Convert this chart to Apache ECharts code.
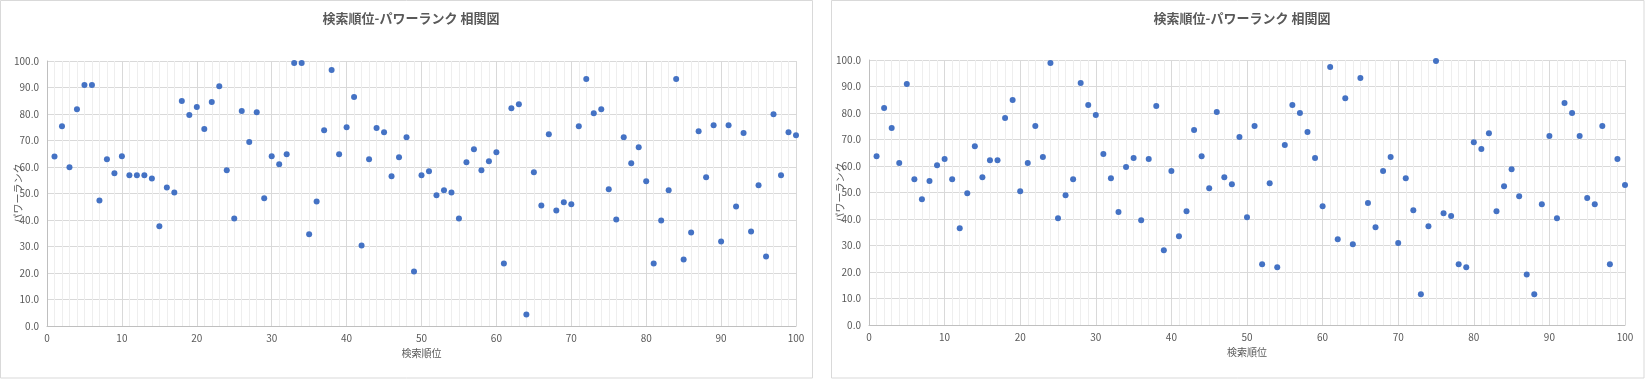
<!DOCTYPE html>
<html><head><meta charset="utf-8">
<script src="https://cdn.jsdelivr.net/npm/echarts@6/dist/echarts.min.js"></script>
<style>html,body{margin:0;padding:0;background:#fff}#c{width:1645px;height:379px}</style>
</head><body><div id="c"></div>
<script>
const titleText = '検索順位-パワーランク 相関図';
const xName = '検索順位';
const yName = 'パワーランク';
const ranks = [1,2,3,4,5,6,7,8,9,10,11,12,13,14,15,16,17,18,19,20,21,22,23,24,25,26,27,28,29,30,31,32,33,34,35,36,37,38,39,40,41,42,43,44,45,46,47,48,49,50,51,52,53,54,55,56,57,58,59,60,61,62,63,64,65,66,67,68,69,70,71,72,73,74,75,76,77,78,79,80,81,82,83,84,85,86,87,88,89,90,91,92,93,94,95,96,97,98,99,100];
const leftPower = [64.0,75.4,59.9,81.8,90.9,90.9,47.4,62.9,57.6,64.1,56.9,56.9,56.9,55.7,37.6,52.3,50.4,84.9,79.6,82.6,74.3,84.5,90.5,58.8,40.6,81.1,69.4,80.7,48.2,64.1,61.0,64.8,99.2,99.2,34.6,47.0,73.9,96.6,64.8,75.0,86.4,30.4,62.9,74.7,73.1,56.5,63.7,71.2,20.6,56.9,58.4,49.3,51.2,50.4,40.6,61.8,66.7,58.8,62.2,65.6,23.6,82.2,83.7,4.3,58.0,45.5,72.4,43.6,46.7,45.9,75.4,93.2,80.3,81.8,51.6,40.2,71.2,61.4,67.5,54.6,23.6,39.8,51.2,93.2,25.1,35.3,73.5,56.1,75.8,31.9,75.8,45.1,72.8,35.7,53.1,26.2,79.9,56.9,73.1,72.0];
const rightPower = [63.7,81.9,74.3,61.1,90.9,55.0,47.5,54.3,60.3,62.6,55.0,36.5,49.7,67.5,55.8,62.2,62.2,78.1,84.9,50.5,61.1,75.1,63.4,98.9,40.3,49.0,55.0,91.3,83.0,79.2,64.5,55.4,42.6,59.6,63.0,39.5,62.6,82.6,28.2,58.1,33.5,42.9,73.6,63.7,51.6,80.4,55.8,53.1,70.9,40.7,75.1,22.9,53.5,21.8,67.9,83.0,80.0,72.8,63.0,44.8,97.4,32.4,85.6,30.5,93.2,46.0,36.9,58.1,63.4,30.9,55.4,43.3,11.6,37.3,99.6,42.2,41.1,22.9,21.8,69.0,66.4,72.4,42.9,52.4,58.8,48.6,19.1,11.6,45.6,71.3,40.3,83.8,80.0,71.3,47.9,45.6,75.1,22.9,62.6,52.8];

const FONT = '"Noto Sans CJK JP", "Noto Sans", sans-serif';
const TXT = '#595959';
const chart = echarts.init(document.getElementById('c'), null, {renderer: 'canvas'});

function xAxis(gi) {
  return {
    type: 'value', gridIndex: gi, min: 0, max: 100, interval: 10,
    name: xName, nameLocation: 'middle', nameGap: 22, nameMoveOverlap: false,
    nameTextStyle: {color: TXT, fontSize: 10, fontFamily: FONT},
    axisLine: {show: true, lineStyle: {color: '#bfbfbf', width: 1}},
    axisTick: {show: false},
    axisLabel: {color: TXT, fontSize: 10, fontFamily: FONT, margin: 7},
    splitLine: {show: true, lineStyle: {color: '#d9d9d9', width: 1}},
    minorTick: {show: false, splitNumber: 10},
    minorSplitLine: {show: true, lineStyle: {color: '#eeeeee', width: 1}}
  };
}
function yAxis(gi) {
  return {
    type: 'value', gridIndex: gi, min: 0, max: 100, interval: 10,
    name: yName, nameLocation: 'middle', nameGap: 24, nameRotate: 90, nameMoveOverlap: false,
    nameTextStyle: {color: TXT, fontSize: 10, fontFamily: FONT},
    axisLine: {show: true, lineStyle: {color: '#bfbfbf', width: 1}},
    axisTick: {show: false},
    axisLabel: {color: TXT, fontSize: 10, fontFamily: FONT, margin: 8,
      formatter: v => v.toFixed(1)},
    splitLine: {show: true, lineStyle: {color: '#d9d9d9', width: 1}}
  };
}
function pts(arr) { return ranks.map((r, i) => [r, arr[i]]); }

chart.setOption({
  animation: false,
  backgroundColor: '#ffffff',
  title: [
    {text: titleText, left: 406, top: 7, textAlign: 'center',
     textStyle: {color: TXT, fontSize: 13, fontWeight: 'bold', fontFamily: FONT}},
    {text: titleText, left: 1237, top: 7, textAlign: 'center',
     textStyle: {color: TXT, fontSize: 13, fontWeight: 'bold', fontFamily: FONT}}
  ],
  graphic: [
    {type: 'rect', shape: {x: 0.5, y: 0.5, width: 812, height: 377.5}, style: {fill: 'none', stroke: '#d9d9d9', lineWidth: 1}, silent: true, z: -1},
    {type: 'rect', shape: {x: 831.5, y: 0.5, width: 812.5, height: 377.5}, style: {fill: 'none', stroke: '#d9d9d9', lineWidth: 1}, silent: true, z: -1}
  ],
  grid: [
    {left: 47, right: 849, top: 61, bottom: 53, containLabel: false},
    {left: 869, right: 20, top: 60, bottom: 54, containLabel: false}
  ],
  xAxis: [xAxis(0), xAxis(1)],
  yAxis: [yAxis(0), yAxis(1)],
  series: [
    {type: 'scatter', xAxisIndex: 0, yAxisIndex: 0, data: pts(leftPower), symbolSize: 6,
     itemStyle: {color: '#4472C4', opacity: 1}},
    {type: 'scatter', xAxisIndex: 1, yAxisIndex: 1, data: pts(rightPower), symbolSize: 6,
     itemStyle: {color: '#4472C4', opacity: 1}}
  ]
});
</script>
</body></html>
